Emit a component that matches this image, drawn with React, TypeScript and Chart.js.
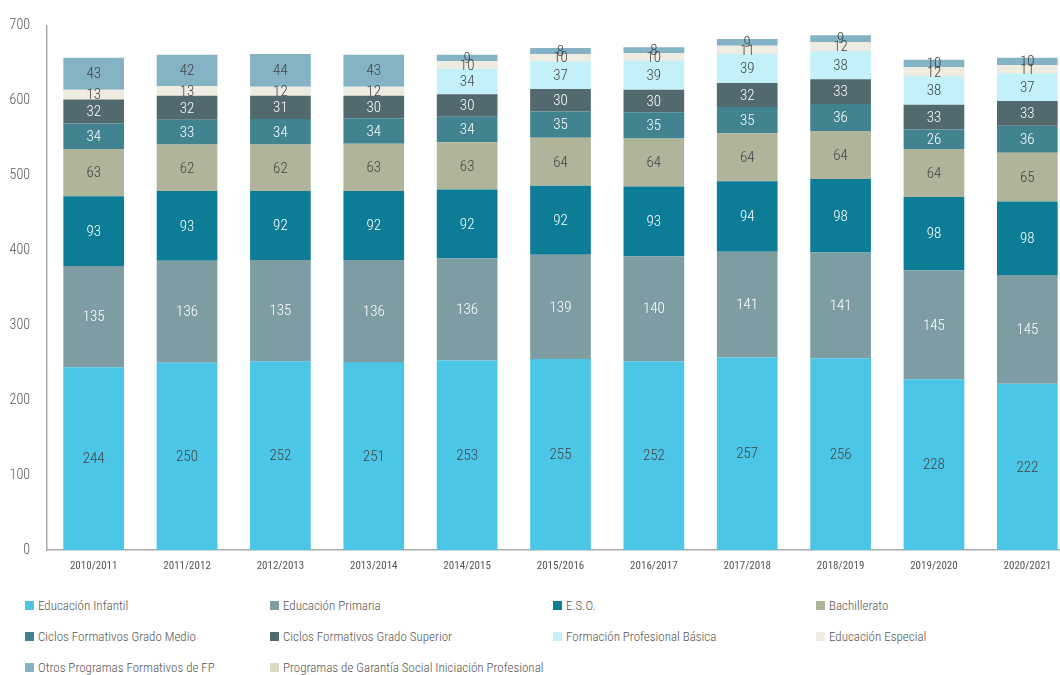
import React, { useEffect, useRef } from "react";
import { Chart, registerables } from "chart.js";

Chart.register(...registerables);

const categories = ["2010/2011", "2011/2012", "2012/2013", "2013/2014", "2014/2015", "2015/2016", "2016/2017", "2017/2018", "2018/2019", "2019/2020", "2020/2021"];

const infantil = [244, 250, 252, 251, 253, 255, 252, 257, 256, 228, 222];
const primaria = [135, 136, 135, 136, 136, 139, 140, 141, 141, 145, 145];
const eso = [93, 93, 92, 92, 92, 92, 93, 94, 98, 98, 98];
const bachillerato = [63, 62, 62, 63, 63, 64, 64, 64, 64, 64, 65];
const cfMedio = [34, 33, 34, 34, 34, 35, 35, 35, 36, 26, 36];
const cfSuperior = [32, 32, 31, 30, 30, 30, 30, 32, 33, 33, 33];
const fpBasica = [0, 0, 0, 0, 34, 37, 39, 39, 38, 38, 37];
const especial = [13, 13, 12, 12, 10, 10, 10, 11, 12, 12, 11];
const otrosFP = [43, 42, 44, 43, 9, 8, 8, 9, 9, 10, 10];
const garantiaSocial = [0, 0, 0, 0, 0, 0, 0, 0, 0, 0, 0];

const yTicks = [0, 100, 200, 300, 400, 500, 600, 700];

const seriesNames = [
  "Educación Infantil",
  "Educación Primaria",
  "E.S.O.",
  "Bachillerato",
  "Ciclos Formativos Grado Medio",
  "Ciclos Formativos Grado Superior",
  "Formación Profesional Básica",
  "Educación Especial",
  "Otros Programas Formativos de FP",
  "Programas de Garantía Social Iniciación Profesional",
];
const seriesData = [infantil, primaria, eso, bachillerato, cfMedio, cfSuperior, fpBasica, especial, otrosFP, garantiaSocial];
const seriesColors = ["#4BC6E6", "#7E9DA3", "#0D7C96", "#B0B49A", "#418390", "#52696E", "#C4F0F9", "#EEEBE0", "#84B3C6", "#D9DBC5"];
const labelColors = ["#444", "#fff", "#fff", "#444", "#fff", "#fff", "#444", "#444", "#444", "#444"];

const FONT = "'Roboto Condensed', 'DejaVu Sans Condensed', sans-serif";
const legendCols = [25, 270, 553, 816];
const legendRows = [605, 636, 667];

const labelPlugin = {
  id: "segLabels",
  afterDatasetsDraw(chart: any) {
    const ctx = chart.ctx;
    ctx.save();
    ctx.font = `300 15px ${FONT}`;
    ctx.textAlign = "center";
    ctx.textBaseline = "middle";
    chart.data.datasets.forEach((ds: any, i: number) => {
      const meta = chart.getDatasetMeta(i);
      meta.data.forEach((el: any, j: number) => {
        const v = ds.data[j];
        if (!v) return;
        ctx.fillStyle = labelColors[i];
        ctx.fillText(String(v), el.x, (el.y + el.base) / 2 + 1);
      });
    });
    ctx.restore();
  },
};

export default function App() {
  const ref = useRef<HTMLCanvasElement>(null);
  useEffect(() => {
    document.documentElement.style.overflow = "hidden";
    document.body.style.overflow = "hidden";
    const chart = new Chart(ref.current!, {
      type: "bar",
      data: {
        labels: categories,
        datasets: seriesNames.map((n, i) => ({
          label: n,
          data: seriesData[i],
          backgroundColor: seriesColors[i],
          borderWidth: 0,
          barPercentage: 0.65,
          categoryPercentage: 1,
        })),
      },
      options: {
        responsive: false,
        animation: false,
        layout: { padding: { top: 24, right: 6, bottom: 10, left: 0 } },
        plugins: { legend: { display: false }, tooltip: { enabled: false } },
        scales: {
          x: {
            stacked: true,
            grid: { display: false, drawTicks: false },
            border: { display: true, color: "#aaa", width: 1.5 },
            ticks: { color: "#555", font: { family: FONT, size: 11 }, padding: 10, maxRotation: 0 },
            afterFit: (s: any) => { s.height = 30; },
          },
          y: {
            stacked: true,
            min: 0,
            max: 700,
            afterBuildTicks: (s: any) => { s.ticks = yTicks.map((v) => ({ value: v })); },
            grid: { display: false, drawTicks: false },
            border: { display: true, color: "#aaa", width: 1.5 },
            ticks: { color: "#555", font: { family: FONT, size: 14, weight: "300" }, padding: 17 },
            afterFit: (s: any) => { s.width = 47; },
          },
        },
      },
      plugins: [labelPlugin],
    });
    return () => chart.destroy();
  }, []);

  return (
    <div style={{ position: "absolute", left: 0, top: 0, width: 1080, height: 675, background: "#fff" }}>
      <canvas ref={ref} width={1080} height={590} style={{ position: "absolute", left: 0, top: 0 }} />
      {seriesNames.map((n, i) => (
        <div
          key={n}
          style={{
            position: "absolute",
            left: legendCols[i % 4],
            top: legendRows[Math.floor(i / 4)] - 9,
            height: 18,
            display: "flex",
            alignItems: "center",
            fontFamily: FONT,
            fontWeight: 300,
            fontSize: 13,
            color: "#555",
            whiteSpace: "nowrap",
          }}
        >
          <span style={{ display: "inline-block", width: 9, height: 9, background: seriesColors[i], marginRight: 4 }} />
          {n}
        </div>
      ))}
    </div>
  );
}
